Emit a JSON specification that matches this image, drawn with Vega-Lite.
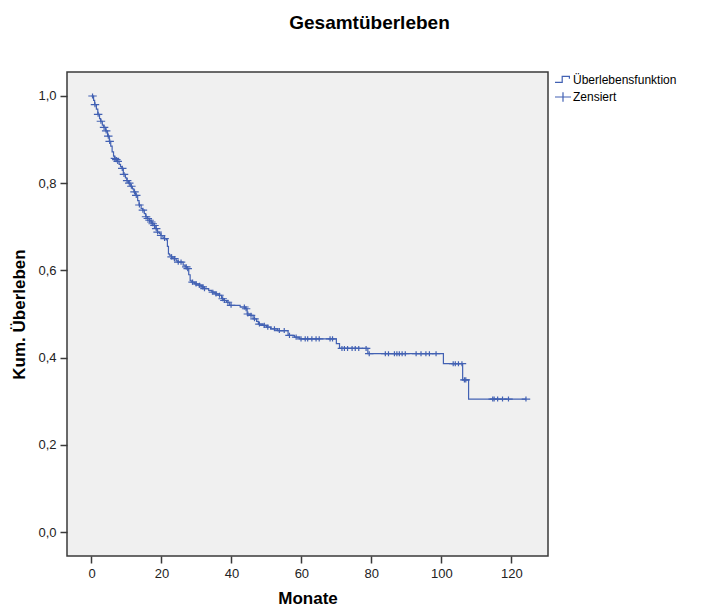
{
  "$schema": "https://vega.github.io/schema/vega-lite/v6.json",
  "width": 481,
  "height": 484,
  "autosize": {"type": "none"},
  "padding": {"left": 67, "top": 72, "right": 160, "bottom": 54},
  "background": "white",
  "title": {"text": "Gesamtüberleben", "fontSize": 19, "fontWeight": "bold", "font": "Liberation Sans", "color": "black", "dx": 62, "offset": 38, "anchor": "middle"},
  "config": {
    "font": "Liberation Sans",
    "view": {"fill": "#F0F0F0", "stroke": "#3a3a3a", "strokeWidth": 1.5},
    "axis": {"domain": false, "grid": false, "tickColor": "#3a3a3a", "tickWidth": 1.5, "tickSize": 7, "labelFontSize": 13, "labelColor": "#222", "labelPadding": 4, "titleFontSize": 17, "titleFontWeight": "bold", "titleColor": "black"}
  },
  "data": {"values": [
    {"t":0,"s":1.0,"c":0},{"t":0.3,"s":1.0,"c":1},{"t":0.6,"s":0.99,"c":0},{"t":0.9,"s":0.98,"c":0},{"t":1.0,"s":0.98,"c":1},
    {"t":1.4,"s":0.97,"c":0},{"t":1.8,"s":0.958,"c":0},{"t":1.9,"s":0.958,"c":1},{"t":2.3,"s":0.948,"c":0},{"t":2.6,"s":0.942,"c":0},
    {"t":2.7,"s":0.942,"c":1},{"t":3.1,"s":0.933,"c":0},{"t":3.5,"s":0.928,"c":0},{"t":3.6,"s":0.928,"c":1},{"t":4.0,"s":0.92,"c":0},
    {"t":4.2,"s":0.92,"c":1},{"t":4.6,"s":0.908,"c":0},{"t":4.8,"s":0.908,"c":1},{"t":5.1,"s":0.896,"c":0},{"t":5.2,"s":0.896,"c":1},
    {"t":5.5,"s":0.885,"c":0},{"t":5.9,"s":0.872,"c":0},{"t":6.3,"s":0.862,"c":0},{"t":6.6,"s":0.857,"c":0},{"t":6.7,"s":0.857,"c":1},
    {"t":7.0,"s":0.854,"c":0},{"t":7.1,"s":0.854,"c":1},{"t":7.4,"s":0.85,"c":0},{"t":7.5,"s":0.85,"c":1},{"t":7.9,"s":0.843,"c":0},
    {"t":8.3,"s":0.838,"c":0},{"t":8.7,"s":0.834,"c":0},{"t":8.8,"s":0.834,"c":1},{"t":9.1,"s":0.82,"c":0},{"t":9.3,"s":0.82,"c":1},
    {"t":9.7,"s":0.812,"c":0},{"t":10.1,"s":0.806,"c":0},{"t":10.2,"s":0.806,"c":1},{"t":10.6,"s":0.8,"c":0},{"t":10.8,"s":0.8,"c":1},
    {"t":11.1,"s":0.793,"c":0},{"t":11.4,"s":0.793,"c":1},{"t":11.7,"s":0.787,"c":0},{"t":12.1,"s":0.78,"c":0},{"t":12.3,"s":0.78,"c":1},
    {"t":12.6,"s":0.772,"c":0},{"t":12.8,"s":0.772,"c":1},{"t":13.2,"s":0.76,"c":0},{"t":13.6,"s":0.75,"c":0},{"t":13.7,"s":0.75,"c":1},
    {"t":14.2,"s":0.742,"c":0},{"t":14.6,"s":0.738,"c":0},{"t":14.7,"s":0.738,"c":1},{"t":15.1,"s":0.73,"c":0},{"t":15.5,"s":0.723,"c":0},
    {"t":15.6,"s":0.723,"c":1},{"t":16.0,"s":0.719,"c":0},{"t":16.1,"s":0.719,"c":1},{"t":16.5,"s":0.715,"c":0},{"t":16.6,"s":0.715,"c":1},
    {"t":17.0,"s":0.711,"c":0},{"t":17.1,"s":0.711,"c":1},{"t":17.4,"s":0.707,"c":0},{"t":17.5,"s":0.707,"c":1},{"t":17.9,"s":0.703,"c":0},
    {"t":18.0,"s":0.703,"c":1},{"t":18.4,"s":0.696,"c":0},{"t":18.5,"s":0.696,"c":1},{"t":18.8,"s":0.688,"c":0},{"t":18.9,"s":0.688,"c":1},
    {"t":19.4,"s":0.684,"c":0},{"t":19.8,"s":0.68,"c":0},{"t":19.9,"s":0.68,"c":1},{"t":20.4,"s":0.676,"c":0},{"t":20.8,"s":0.673,"c":0},
    {"t":20.9,"s":0.673,"c":1},{"t":21.4,"s":0.67,"c":0},{"t":21.7,"s":0.655,"c":0},{"t":22.0,"s":0.638,"c":0},{"t":22.3,"s":0.635,"c":0},
    {"t":22.8,"s":0.631,"c":0},{"t":22.9,"s":0.631,"c":1},{"t":23.3,"s":0.627,"c":0},{"t":23.7,"s":0.627,"c":1},{"t":24.2,"s":0.622,"c":0},
    {"t":24.7,"s":0.619,"c":0},{"t":24.8,"s":0.619,"c":1},{"t":25.6,"s":0.619,"c":1},{"t":26.2,"s":0.612,"c":0},{"t":26.8,"s":0.608,"c":0},
    {"t":27.1,"s":0.608,"c":1},{"t":27.3,"s":0.604,"c":0},{"t":27.5,"s":0.604,"c":1},{"t":27.8,"s":0.59,"c":0},{"t":28.2,"s":0.577,"c":0},
    {"t":28.5,"s":0.573,"c":0},{"t":28.9,"s":0.573,"c":1},{"t":29.5,"s":0.569,"c":0},{"t":29.9,"s":0.569,"c":1},{"t":30.5,"s":0.566,"c":0},
    {"t":30.9,"s":0.566,"c":1},{"t":31.4,"s":0.562,"c":0},{"t":31.8,"s":0.562,"c":1},{"t":32.1,"s":0.558,"c":0},{"t":32.3,"s":0.558,"c":1},
    {"t":33.5,"s":0.554,"c":0},{"t":34.4,"s":0.55,"c":0},{"t":34.7,"s":0.55,"c":1},{"t":35.3,"s":0.546,"c":0},{"t":35.6,"s":0.546,"c":1},
    {"t":36.2,"s":0.543,"c":0},{"t":36.6,"s":0.543,"c":1},{"t":37.2,"s":0.535,"c":0},{"t":37.5,"s":0.535,"c":1},{"t":37.8,"s":0.531,"c":0},
    {"t":38.0,"s":0.531,"c":1},{"t":38.6,"s":0.527,"c":0},{"t":39.0,"s":0.527,"c":1},{"t":39.5,"s":0.52,"c":0},{"t":39.9,"s":0.52,"c":1},
    {"t":42.5,"s":0.516,"c":0},{"t":43.7,"s":0.516,"c":1},{"t":44.0,"s":0.512,"c":0},{"t":44.2,"s":0.512,"c":1},{"t":44.5,"s":0.5,"c":0},
    {"t":44.7,"s":0.5,"c":1},{"t":45.3,"s":0.497,"c":0},{"t":45.6,"s":0.497,"c":1},{"t":46.2,"s":0.489,"c":0},{"t":46.6,"s":0.489,"c":1},
    {"t":47.2,"s":0.483,"c":0},{"t":47.7,"s":0.477,"c":0},{"t":48.0,"s":0.477,"c":1},{"t":49.0,"s":0.474,"c":0},{"t":49.4,"s":0.474,"c":1},
    {"t":50.0,"s":0.47,"c":0},{"t":50.4,"s":0.47,"c":1},{"t":51.2,"s":0.466,"c":0},{"t":52.3,"s":0.466,"c":1},{"t":53.2,"s":0.462,"c":0},
    {"t":53.7,"s":0.462,"c":1},{"t":55.1,"s":0.462,"c":1},{"t":56.2,"s":0.451,"c":0},{"t":56.6,"s":0.451,"c":1},{"t":58.0,"s":0.447,"c":0},
    {"t":58.5,"s":0.447,"c":1},{"t":59.4,"s":0.443,"c":0},{"t":59.9,"s":0.443,"c":1},{"t":61.1,"s":0.443,"c":1},{"t":61.8,"s":0.443,"c":1},
    {"t":63.0,"s":0.443,"c":1},{"t":64.2,"s":0.443,"c":1},{"t":65.1,"s":0.443,"c":1},{"t":68.2,"s":0.443,"c":1},{"t":68.9,"s":0.443,"c":1},
    {"t":70.0,"s":0.432,"c":0},{"t":70.9,"s":0.421,"c":0},{"t":71.6,"s":0.421,"c":1},{"t":72.3,"s":0.421,"c":1},{"t":73.2,"s":0.421,"c":1},
    {"t":74.5,"s":0.421,"c":1},{"t":75.4,"s":0.421,"c":1},{"t":76.4,"s":0.421,"c":1},{"t":78.5,"s":0.421,"c":1},{"t":79.0,"s":0.409,"c":0},
    {"t":79.4,"s":0.409,"c":1},{"t":84.0,"s":0.409,"c":1},{"t":84.9,"s":0.409,"c":1},{"t":86.6,"s":0.409,"c":1},{"t":87.3,"s":0.409,"c":1},
    {"t":88.0,"s":0.409,"c":1},{"t":88.8,"s":0.409,"c":1},{"t":89.7,"s":0.409,"c":1},{"t":92.8,"s":0.409,"c":1},{"t":94.2,"s":0.409,"c":1},
    {"t":95.6,"s":0.409,"c":1},{"t":96.6,"s":0.409,"c":1},{"t":98.5,"s":0.409,"c":1},{"t":100.6,"s":0.386,"c":0},{"t":103.4,"s":0.386,"c":1},
    {"t":104.0,"s":0.386,"c":1},{"t":104.9,"s":0.386,"c":1},{"t":105.9,"s":0.386,"c":1},{"t":106.1,"s":0.349,"c":0},{"t":106.6,"s":0.349,"c":1},
    {"t":107.0,"s":0.349,"c":1},{"t":107.8,"s":0.305,"c":0},{"t":114.7,"s":0.305,"c":1},{"t":115.1,"s":0.305,"c":1},{"t":116.1,"s":0.305,"c":1},
    {"t":117.5,"s":0.305,"c":1},{"t":119.2,"s":0.305,"c":1},{"t":124.2,"s":0.305,"c":1}
  ]},
  "encoding": {
    "x": {"field": "t", "type": "quantitative", "title": "Monate",
      "scale": {"domain": [-7, 130.5], "nice": false, "zero": false},
      "axis": {"values": [0, 20, 40, 60, 80, 100, 120], "titlePadding": 10}},
    "y": {"field": "s", "type": "quantitative", "title": "Kum. Überleben",
      "scale": {"domain": [-0.055, 1.055], "nice": false, "zero": false},
      "axis": {"values": [0, 0.2, 0.4, 0.6, 0.8, 1.0], "labelExpr": "replace(format(datum.value, '.1f'), '.', ',')", "titlePadding": 9}}
  },
  "layer": [
    {"mark": {"type": "line", "interpolate": "step-after", "color": "#4261B3", "strokeWidth": 1.2}},
    {"transform": [{"filter": "datum.c == 1"}],
     "mark": {"type": "point", "filled": false, "color": "#4261B3", "strokeWidth": 1.2, "size": 72, "opacity": 1},
     "encoding": {
       "shape": {"datum": "Zensiert",
         "scale": {"domain": ["Überlebensfunktion", "Zensiert"], "range": ["M-1,0.3H-0.1V-0.45H0.8V-0.15", "M-1,0H1M0,-0.6V0.6"]},
         "legend": {"title": null, "orient": "none", "legendX": 487, "legendY": -1, "symbolSize": 256, "symbolStrokeColor": "#4261B3", "symbolFillColor": "transparent", "symbolStrokeWidth": 1.2, "labelFontSize": 12, "labelColor": "black", "labelOffset": 1, "rowPadding": 2}}
     }}
  ]
}
